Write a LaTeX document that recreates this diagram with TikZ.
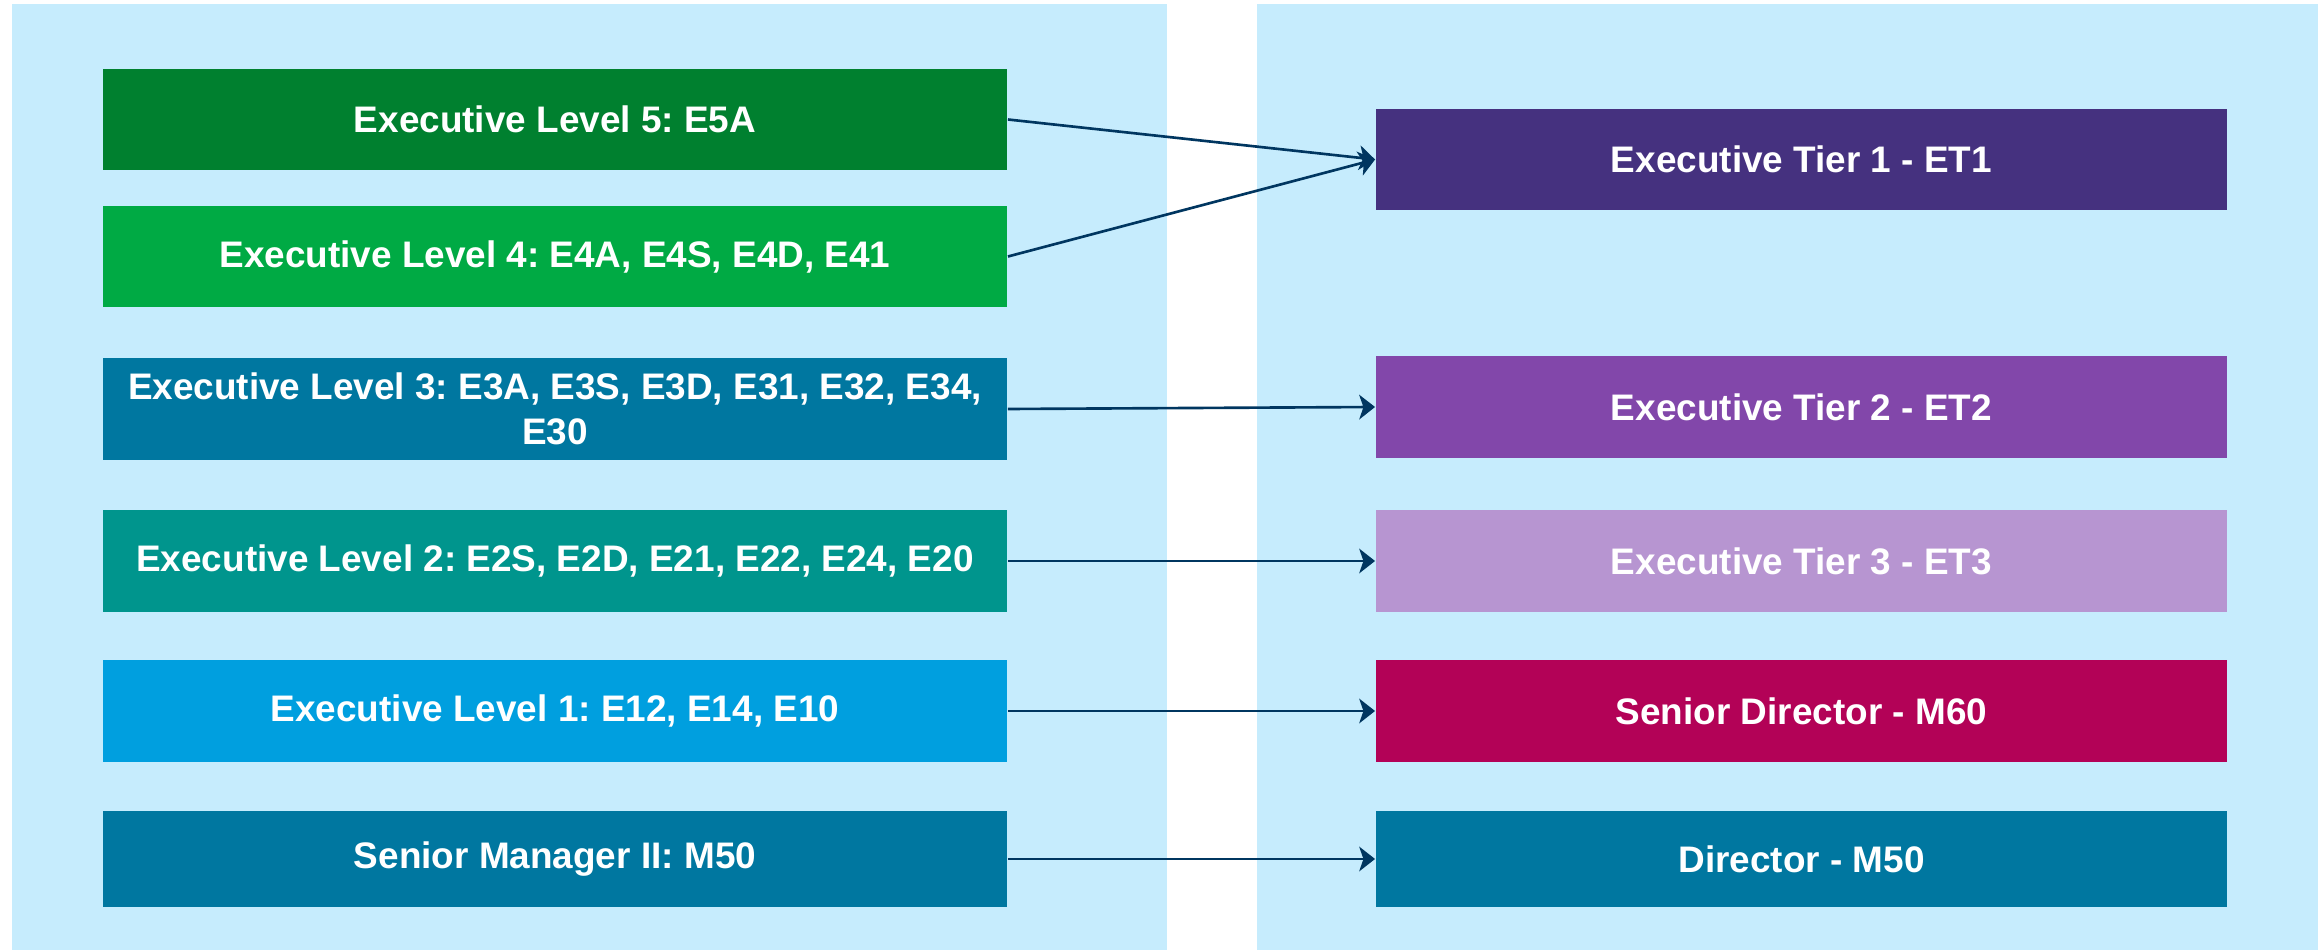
\documentclass[tikz,border=0pt]{standalone}
\usepackage{fontspec}
\setmainfont{Liberation Sans}
\usetikzlibrary{arrows.meta}
\frenchspacing
\definecolor{panel}{HTML}{C6ECFD}
\definecolor{cE5}{HTML}{00802F}
\definecolor{cE4}{HTML}{00AA44}
\definecolor{cE3}{HTML}{0077A0}
\definecolor{cE2}{HTML}{00958D}
\definecolor{cE1}{HTML}{009FDF}
\definecolor{cM50}{HTML}{0077A0}
\definecolor{cT1}{HTML}{45317F}
\definecolor{cT2}{HTML}{8247AA}
\definecolor{cT3}{HTML}{B795D1}
\definecolor{cM60}{HTML}{B30257}
\definecolor{arrowc}{HTML}{003660}
\begin{document}
\begin{tikzpicture}[x=0.01cm,y=-0.01cm,
  box/.style={minimum width=9.04cm, minimum height=1.01cm, inner sep=0pt, text=white,
    font=\bfseries\fontsize{10.5}{12.9}\selectfont, align=center},
  rbox/.style={box, minimum width=8.51cm},
  conn/.style={draw=arrowc, line width=0.75pt, -{Stealth[length=4.5pt,width=7pt,inset=1.2pt]}}]
\useasboundingbox (0,0) rectangle (2323,952);
\fill[panel] (12,4) rectangle (1167,950);
\fill[panel] (1257,4) rectangle (2318,950);

\node[box, fill=cE5] (l5) at (555,119.5) {Executive Level 5: E5A};
\node[box, fill=cE4] (l4) at (555,256.5) {Executive Level 4: E4A, E4S, E4D, E41};
\node[box, fill=cE3] (l3) at (555,409) {Executive Level 3: E3A, E3S, E3D, E31, E32, E34,\\E30};
\node[box, fill=cE2] (l2) at (555,561) {Executive Level 2: E2S, E2D, E21, E22, E24, E20};
\node[box, fill=cE1] (l1) at (555,711) {Executive Level 1: E12, E14, E10};
\node[box, fill=cM50, minimum height=0.96cm] (l0) at (555,859) {Senior Manager II: M50};

\node[rbox, fill=cT1] (r1) at (1801.5,159.5) {Executive Tier 1 - ET1};
\node[rbox, fill=cT2] (r2) at (1801.5,407) {Executive Tier 2 - ET2};
\node[rbox, fill=cT3] (r3) at (1801.5,561) {Executive Tier 3 - ET3};
\node[rbox, fill=cM60] (r4) at (1801.5,711) {Senior Director - M60};
\node[rbox, fill=cM50, minimum height=0.96cm] (r5) at (1801.5,859) {Director - M50};

\draw[conn] (l5.east) -- (r1.west);
\draw[conn] (l4.east) -- (r1.west);
\draw[conn] (l3.east) -- (r2.west);
\draw[conn] (l2.east) -- (r3.west);
\draw[conn] (l1.east) -- (r4.west);
\draw[conn] (l0.east) -- (r5.west);
\end{tikzpicture}
\end{document}
